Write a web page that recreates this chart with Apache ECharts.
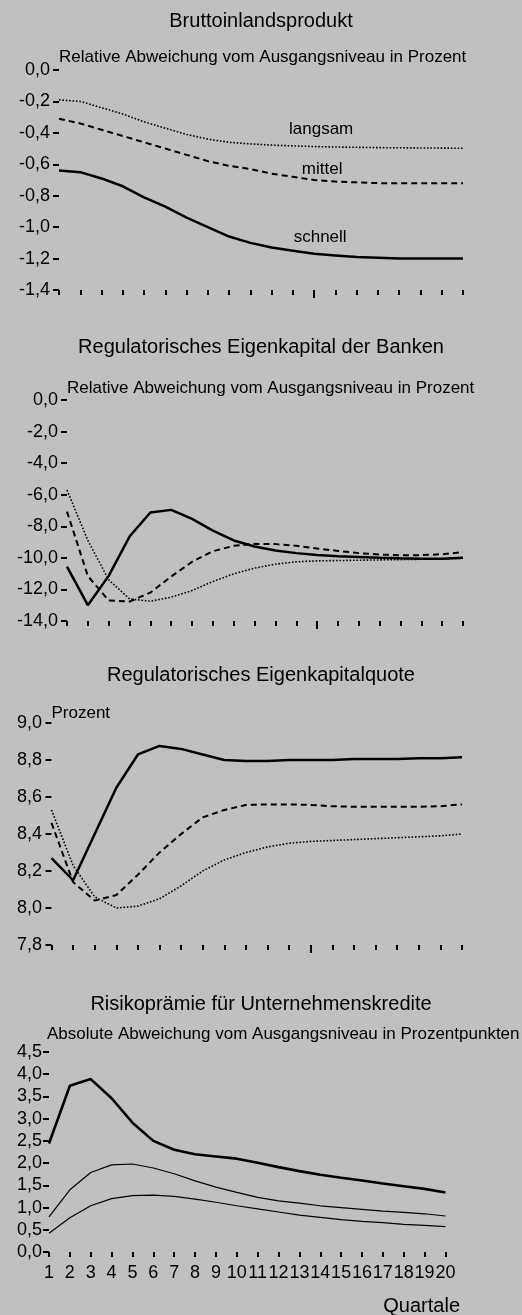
<!DOCTYPE html>
<html>
<head>
<meta charset="utf-8">
<script src="https://cdn.jsdelivr.net/npm/echarts@6/dist/echarts.min.js"></script>
<style>
html,body{margin:0;padding:0;background:#c0c0c0;}
#c{width:522px;height:1315px;}
</style>
</head>
<body>
<div id="c"></div>
<script>
const categories = ['1','2','3','4','5','6','7','8','9','10','11','12','13','14','15','16','17','18','19','20'];

const titles = ['Bruttoinlandsprodukt','Regulatorisches Eigenkapital der Banken','Regulatorisches Eigenkapitalquote','Risikoprämie für Unternehmenskredite'];
const subtitles = ['Relative Abweichung vom Ausgangsniveau in Prozent','Relative Abweichung vom Ausgangsniveau in Prozent','Prozent','Absolute Abweichung vom Ausgangsniveau in Prozentpunkten'];
const xAxisName = 'Quartale';
const curveNames = ['schnell','mittel','langsam'];

const bipSchnell = [-0.64,-0.65,-0.69,-0.74,-0.81,-0.87,-0.94,-1.00,-1.06,-1.10,-1.13,-1.15,-1.17,-1.18,-1.19,-1.195,-1.20,-1.20,-1.20,-1.20];
const bipMittel  = [-0.31,-0.34,-0.38,-0.42,-0.46,-0.50,-0.54,-0.58,-0.61,-0.63,-0.66,-0.68,-0.70,-0.71,-0.715,-0.72,-0.72,-0.72,-0.72,-0.72];
const bipLangsam = [-0.19,-0.20,-0.24,-0.28,-0.33,-0.37,-0.41,-0.44,-0.46,-0.47,-0.478,-0.483,-0.487,-0.49,-0.492,-0.494,-0.495,-0.496,-0.497,-0.498];

const ekSchnell = [-10.55,-13.0,-11.14,-8.65,-7.13,-6.96,-7.53,-8.27,-8.9,-9.28,-9.53,-9.7,-9.82,-9.9,-9.95,-10.0,-10.03,-10.05,-10.05,-10.0];
const ekMittel  = [-7.07,-11.15,-12.7,-12.77,-12.2,-11.18,-10.25,-9.58,-9.24,-9.11,-9.13,-9.24,-9.41,-9.56,-9.7,-9.79,-9.83,-9.83,-9.77,-9.64];
const ekLangsam = [-5.7,-8.9,-11.39,-12.6,-12.75,-12.49,-12.07,-11.5,-11.01,-10.65,-10.4,-10.25,-10.19,-10.17,-10.15,-10.13,-10.11,-10.09,-10.07,-10.02];

const quoteSchnell = [8.27,8.15,8.40,8.65,8.83,8.876,8.86,8.83,8.80,8.795,8.795,8.80,8.80,8.80,8.805,8.805,8.805,8.81,8.81,8.815];
const quoteMittel  = [8.46,8.14,8.04,8.07,8.18,8.30,8.40,8.49,8.53,8.557,8.56,8.56,8.557,8.55,8.547,8.547,8.547,8.547,8.55,8.56];
const quoteLangsam = [8.53,8.23,8.06,8.0,8.01,8.05,8.12,8.2,8.26,8.30,8.33,8.35,8.36,8.365,8.37,8.375,8.38,8.385,8.39,8.40];

const riskSchnell = [2.44,3.74,3.89,3.46,2.91,2.50,2.30,2.20,2.15,2.10,2.01,1.91,1.82,1.74,1.67,1.61,1.54,1.48,1.42,1.34];
const riskMittel  = [0.79,1.40,1.79,1.96,1.98,1.89,1.76,1.60,1.46,1.34,1.23,1.15,1.10,1.04,1.00,0.96,0.92,0.89,0.86,0.81];
const riskLangsam = [0.42,0.77,1.04,1.20,1.27,1.28,1.25,1.19,1.12,1.04,0.97,0.90,0.83,0.78,0.73,0.69,0.66,0.62,0.60,0.57];

const yRanges = [
  {min:-1.4, max:0, interval:0.2},
  {min:-14, max:0, interval:2},
  {min:7.8, max:9.0, interval:0.2},
  {min:0, max:4.5, interval:0.5}
];

const FONT = 'Liberation Sans, Arial, sans-serif';
const BLACK = '#000';

const grids = [
  {left:59, right:59, top:70, height:220},
  {left:67, right:59, top:400, height:221},
  {left:51.5, right:60, top:723, height:222},
  {left:49, right:76, top:1052, height:200}
];
const nameGaps = [13, 12, 10, 10];
const labelMargins = [9, 9, 9.5, 7];
const titleTops = [11, 337, 665, 994];

const fmt = v => { let s = (Math.round(v*10)/10).toFixed(1); if (s === '-0.0') s = '0.0'; return s.replace('.', ','); };

const xAxes = [], yAxes = [];
grids.forEach((g, i) => {
  xAxes.push({
    type:'category', gridIndex:i, data:categories, boundaryGap:false, position:'bottom',
    axisLine:{show:false, onZero:false},
    axisTick:{show:true, interval:0, length:5, lineStyle:{color:BLACK, width:2}},
    axisLabel:{show:i===3, interval:0, margin:12, fontSize:18, color:BLACK, fontFamily:FONT},
    splitLine:{show:false}
  });
  yAxes.push({
    type:'value', gridIndex:i, min:yRanges[i].min, max:yRanges[i].max, interval:yRanges[i].interval,
    axisLine:{show:false, onZero:false},
    axisTick:{show:true, length:6, lineStyle:{color:BLACK, width:2}},
    axisLabel:{margin:labelMargins[i], fontSize:18, color:BLACK, fontFamily:FONT, formatter:fmt},
    splitLine:{show:false},
    name:subtitles[i], nameLocation:'end', nameGap:nameGaps[i],
    nameTextStyle:{align:'left', verticalAlign:'middle', fontSize:17, color:BLACK, fontFamily:FONT,
                   padding: i === 3 ? [0,0,0,-2] : 0}
  });
});
// long marker tick at quarter 13 in panels 1-3
for (let i = 0; i < 3; i++) {
  xAxes.push({
    type:'category', gridIndex:i, data:categories, boundaryGap:false, position:'bottom',
    axisLine:{show:false, onZero:false},
    axisTick:{show:true, interval:(idx) => idx === 12, length:8, lineStyle:{color:BLACK, width:2}},
    axisLabel:{show:false}, splitLine:{show:false}
  });
}

const styles = {
  schnell:{type:'solid', width:2.5},
  mittel:{type:[6,4], width:2},
  langsam:{type:[1.6,1.8], width:1.6}
};

function mk(name, data, i, style, extra) {
  return Object.assign({
    type:'line', name:name, data:data, xAxisIndex:i, yAxisIndex:i,
    symbol:'none', smooth:false, animation:false,
    lineStyle:Object.assign({color:BLACK, cap:'butt'}, style),
    z: name === 'schnell' ? 5 : 3
  }, extra || {});
}

function labelPoint(text, x, y, dx) {
  return {
    markPoint:{
      symbol:'circle', symbolSize:1, itemStyle:{color:'rgba(0,0,0,0)'}, animation:false,
      label:{show:true, position:'inside', formatter:text, offset:[dx,0], fontSize:17, color:BLACK, fontFamily:FONT},
      data:[{coord:[x, y]}]
    }
  };
}

const series = [
  mk('langsam', bipLangsam, 0, styles.langsam, labelPoint(curveNames[2], '13', -0.376, 7)),
  mk('mittel', bipMittel, 0, styles.mittel, labelPoint(curveNames[1], '13', -0.63, 8)),
  mk('schnell', bipSchnell, 0, styles.schnell, labelPoint(curveNames[0], '13', -1.064, 6)),
  mk('langsam', ekLangsam, 1, styles.langsam),
  mk('mittel', ekMittel, 1, styles.mittel),
  mk('schnell', ekSchnell, 1, styles.schnell),
  mk('langsam', quoteLangsam, 2, styles.langsam),
  mk('mittel', quoteMittel, 2, styles.mittel),
  mk('schnell', quoteSchnell, 2, styles.schnell),
  mk('langsam', riskLangsam, 3, {type:'solid', width:1.2}),
  mk('mittel', riskMittel, 3, {type:'solid', width:1.2}),
  mk('schnell', riskSchnell, 3, {type:'solid', width:2.6})
];

const titleComps = titles.map((t, i) => ({
  text:t, left:'center', top:titleTops[i], padding:0,
  textStyle:{fontSize:20, fontWeight:'normal', color:BLACK, fontFamily:FONT}
}));
titleComps.push({
  text:xAxisName, right:62, top:1296, padding:0,
  textStyle:{fontSize:20, fontWeight:'normal', color:BLACK, fontFamily:FONT}
});

const chart = echarts.init(document.getElementById('c'), null, {renderer:'canvas'});
chart.setOption({
  backgroundColor:'#c0c0c0',
  animation:false,
  title:titleComps,
  grid:grids,
  xAxis:xAxes,
  yAxis:yAxes,
  series:series
});
</script>
</body>
</html>
